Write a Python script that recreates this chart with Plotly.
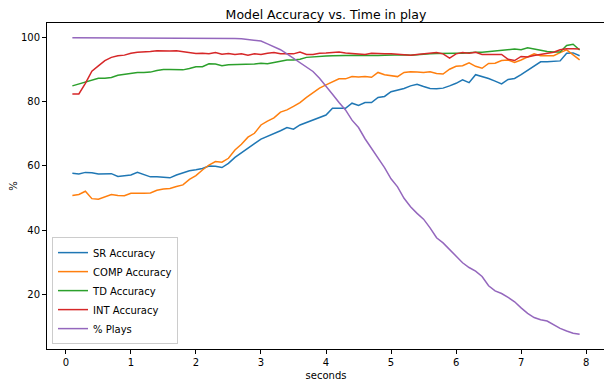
import plotly.graph_objects as go

seconds = [round(0.1 * i, 1) for i in range(1, 80)]

sr_accuracy = [
    57.7, 57.5, 58.0, 57.9, 57.5, 57.6, 57.6, 56.7, 57.0, 57.2,
    58.0, 57.3, 56.6, 56.6, 56.5, 56.3, 57.2, 57.9, 58.5, 58.8,
    59.2, 60.0, 59.9, 59.5, 60.8, 62.7, 64.2, 65.7, 67.0, 68.4,
    69.2, 70.0, 71.0, 72.0, 71.5, 72.8, 73.6, 74.5, 75.2, 75.9,
    78.0, 78.0, 78.0, 79.6, 78.9, 79.8, 79.8, 81.4, 81.7, 83.2,
    83.6, 84.2, 85.0, 85.5, 84.8, 84.2, 84.1, 84.3, 85.0, 85.8,
    86.9, 86.0, 88.5, 88.0, 87.3, 86.5, 85.6, 87.0, 87.3, 88.5,
    89.8, 91.0, 92.5, 92.5, 92.6, 92.8, 95.2, 95.3, 94.4,
]

comp_accuracy = [
    50.8, 51.1, 52.1, 49.8, 49.6, 50.4, 51.1, 50.8, 50.7, 51.5,
    51.4, 51.5, 51.6, 52.4, 52.8, 53.0, 53.6, 54.1, 55.8, 57.0,
    58.75, 60.3, 61.4, 61.2, 62.4, 65.0, 66.8, 69.0, 70.2, 72.8,
    74.0, 75.0, 76.8, 77.5, 78.6, 79.8, 81.4, 82.9, 84.3, 85.3,
    86.2, 87.2, 87.2, 87.9, 87.8, 87.9, 87.7, 89.2, 88.5, 88.2,
    87.9, 89.2, 89.4, 89.3, 89.2, 89.4, 88.9, 88.7, 90.2, 91.1,
    91.3, 92.2, 91.1, 90.5, 92.0, 92.1, 92.9, 93.1, 92.3, 93.1,
    94.0, 95.0, 94.4, 94.3, 94.4, 95.4, 96.25, 94.7, 93.1,
]

td_accuracy = [
    85.0, 85.6, 86.1, 86.7, 87.4, 87.4, 87.6, 88.3, 88.6, 88.8,
    89.2, 89.2, 89.3, 89.8, 90.1, 90.1, 90.0, 90.0, 90.4, 91.0,
    91.0, 91.9, 91.8, 91.3, 91.6, 91.6, 91.7, 91.8, 91.8, 92.1,
    91.9, 92.3, 92.6, 93.1, 93.1, 93.3, 93.9, 94.1, 94.2, 94.3,
    94.4, 94.5, 94.6, 94.6, 94.6, 94.5, 94.4, 94.5, 94.6, 94.7,
    94.8, 94.7, 94.6, 94.8, 94.9, 95.0, 95.1, 95.2, 95.2, 95.2,
    95.2, 95.4, 95.5, 95.5, 95.7, 95.8, 96.0, 96.3, 96.5, 96.3,
    96.9, 96.5, 96.0, 95.7, 95.6, 95.6, 97.6, 98.0, 96.2,
]

int_accuracy = [
    82.5, 82.5, 85.8, 89.6, 91.25, 92.9, 93.9, 94.4, 94.6, 95.2,
    95.5, 95.5, 95.7, 96.0, 95.9, 95.9, 96.0, 95.7, 95.3, 95.1,
    95.2, 95.0, 95.4, 94.9, 95.1, 94.8, 95.0, 94.6, 95.0, 94.8,
    95.2, 95.4, 95.0, 95.0, 95.0, 95.6, 94.8, 94.8, 95.2, 95.3,
    95.5, 95.6, 95.3, 95.2, 94.9, 94.8, 95.2, 95.0, 95.0, 95.0,
    94.8, 94.6, 94.6, 94.8, 95.0, 95.3, 95.4, 95.0, 93.7, 95.0,
    95.4, 95.2, 95.5, 94.8, 94.8, 94.6, 94.8, 93.3, 92.9, 94.2,
    94.0, 94.5, 94.9, 95.2, 95.5, 96.3, 96.6, 96.6, 96.5,
]

pct_plays = [
    100.0, 100.0, 100.0, 100.0, 100.0, 100.0, 100.0, 100.0, 100.0, 100.0,
    100.0, 100.0, 100.0, 100.0, 100.0, 100.0, 100.0, 100.0, 100.0, 100.0,
    99.95, 99.9, 99.9, 99.9, 99.85, 99.8, 99.7, 99.5, 99.3, 99.0,
    98.1, 97.3, 96.3, 95.0, 93.6, 92.1, 90.8, 89.5, 87.4, 85.0,
    82.4, 79.8, 77.5, 74.3, 72.0, 68.5, 65.5, 62.8, 59.5, 56.0,
    53.5, 49.9, 47.3, 45.2, 43.4, 40.7, 37.6, 36.0, 34.0, 31.8,
    29.8, 28.3, 27.2, 25.5, 22.6, 21.0, 20.2, 19.0, 17.6, 15.7,
    14.0, 12.7, 12.0, 11.6, 10.5, 9.3, 8.5, 7.8, 7.5,
]

series_names = ["SR Accuracy", "COMP Accuracy", "TD Accuracy", "INT Accuracy", "% Plays"]
series_values = [sr_accuracy, comp_accuracy, td_accuracy, int_accuracy, pct_plays]
colors = ["#1f77b4", "#ff7f0e", "#2ca02c", "#d62728", "#9467bd"]

x_ticks = [0, 1, 2, 3, 4, 5, 6, 7, 8]
y_ticks = [20, 40, 60, 80, 100]

fig = go.Figure()
for name, vals, col in zip(series_names, series_values, colors):
    fig.add_trace(go.Scatter(x=seconds, y=vals, mode="lines", name=name,
                             line=dict(color=col, width=1.5)))

axis_common = dict(showline=True, linecolor="black", linewidth=1, mirror=True,
                   ticks="outside", ticklen=4, tickcolor="black", showgrid=False,
                   zeroline=False, automargin=False,
                   tickfont=dict(size=10, color="black"))

# the page body adds an 8px offset, so the figure is sized to fit the 612x387 window
fig.update_layout(
    width=604, height=379,
    margin=dict(l=39, r=7, t=15, b=38),
    paper_bgcolor="white", plot_bgcolor="white",
    font=dict(family="DejaVu Sans", size=10, color="black"),
    title=dict(text="Model Accuracy vs. Time in play", x=0.5, xref="paper",
               y=0.994, yref="container", yanchor="top",
               font=dict(size=12.5, color="black")),
    xaxis=dict(range=[-0.29, 8.29], tickvals=x_ticks,
               title=dict(text="seconds", font=dict(size=10), standoff=4),
               **axis_common),
    yaxis=dict(range=[2.87, 104.63], tickvals=y_ticks,
               title=dict(text="%", font=dict(size=10), standoff=4),
               **axis_common),
    legend=dict(x=0.009, y=0.015, xanchor="left", yanchor="bottom",
                bgcolor="rgba(255,255,255,0.8)", bordercolor="#cccccc", borderwidth=1,
                font=dict(size=10), itemwidth=30, tracegroupgap=0),
    showlegend=True,
)

fig.write_html("out.html")
